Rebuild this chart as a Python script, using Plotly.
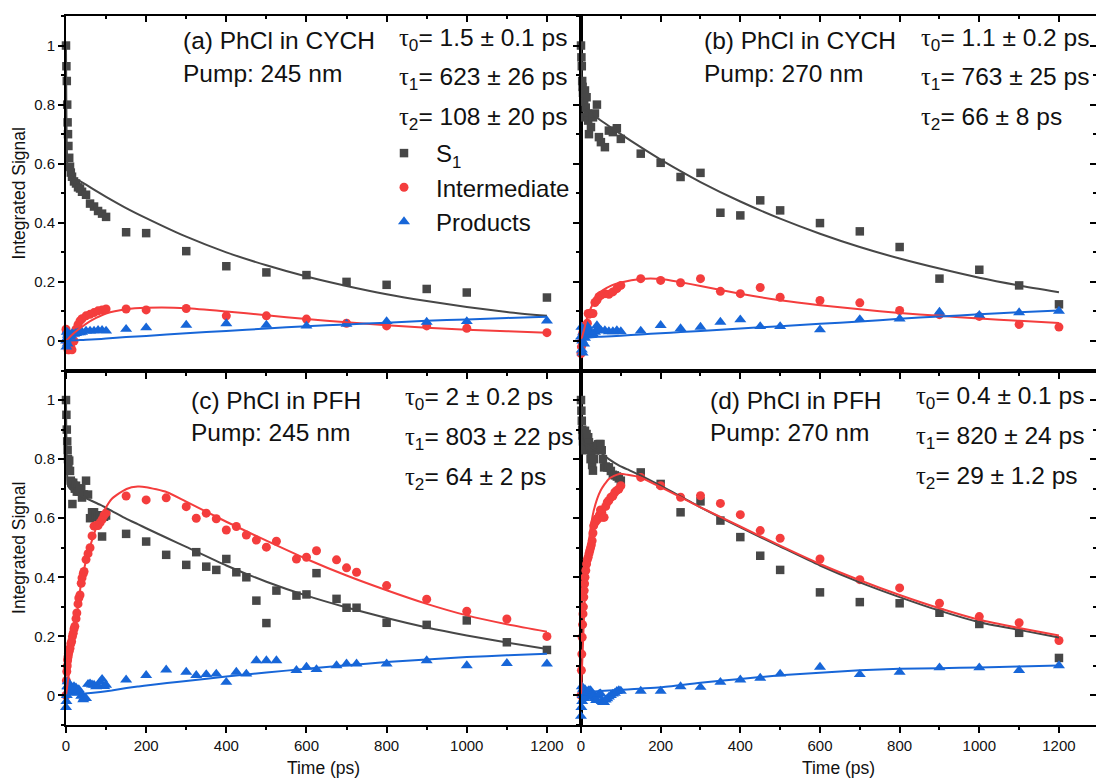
import plotly.graph_objects as go
from plotly.subplots import make_subplots

# ---------------- data ----------------
# Panel (a): PhCl in CYCH, pump 245 nm
a_t = [0, 1, 2, 3, 4, 5, 6, 8, 10, 12, 15, 20, 25, 30, 35, 40, 50, 60, 70, 80, 90, 100,
       150, 200, 300, 400, 500, 600, 700, 800, 900, 1000, 1200]
a_s1 = [1.0, 0.93, 0.88, 0.80, 0.74, 0.70, 0.66, 0.62, 0.59, 0.57, 0.556, 0.54, 0.533, 0.52, 0.516, 0.505,
        0.495, 0.465, 0.455, 0.44, 0.431, 0.42, 0.368, 0.365, 0.304, 0.253, 0.232, 0.223, 0.20, 0.19,
        0.176, 0.164, 0.147]
a_int = [0.04, 0.03, 0.0, -0.01, -0.02, -0.03, -0.025, -0.03, -0.028, -0.02, -0.03, 0.0, 0.04, 0.055,
         0.068, 0.075, 0.085, 0.09, 0.096, 0.102, 0.105, 0.108, 0.108, 0.105, 0.11, 0.085, 0.085, 0.074,
         0.06, 0.051, 0.051, 0.043, 0.028]
a_prod = [0.0, -0.02, 0.03, 0.01, -0.01, 0.02, 0.025, 0.02, 0.015, 0.02, 0.025, 0.023, 0.026, 0.028,
          0.028, 0.03, 0.034, 0.034, 0.034, 0.036, 0.036, 0.034, 0.04, 0.045, 0.054, 0.059, 0.054,
          0.051, 0.057, 0.066, 0.064, 0.066, 0.068]
a_fit_t = [0, 2, 5, 10, 20, 35, 50, 75, 100, 150, 200, 300, 400, 500, 600, 700, 800, 900, 1000, 1100, 1200]
a_fit_s1 = [1.0, 0.66, 0.57, 0.558, 0.55, 0.541, 0.529, 0.508, 0.488, 0.45, 0.416, 0.353, 0.30, 0.256,
            0.218, 0.186, 0.158, 0.135, 0.115, 0.098, 0.085]
a_fit_int = [0.0, 0.003, 0.007, 0.014, 0.027, 0.043, 0.058, 0.078, 0.093, 0.107, 0.112, 0.111, 0.10,
             0.087, 0.074, 0.063, 0.053, 0.045, 0.038, 0.033, 0.028]
a_fit_prod = [0.0, 0.0, 0.0, 0.001, 0.002, 0.003, 0.004, 0.006, 0.008, 0.013, 0.017, 0.026, 0.034, 0.042,
              0.05, 0.056, 0.062, 0.068, 0.073, 0.078, 0.082]

# Panel (b): PhCl in CYCH, pump 270 nm
b_t = [0, 1, 2, 3, 4, 5, 6, 8, 10, 12, 14, 16, 18, 20, 25, 30, 35, 40, 45, 50, 60, 70, 80, 90, 100,
       150, 200, 250, 300, 350, 400, 450, 500, 600, 700, 800, 900, 1000, 1100, 1200]
b_s1 = [1.0, 0.96, 0.93, 0.88, 0.86, 0.84, 0.757, 0.81, 0.848, 0.79, 0.825, 0.77, 0.746, 0.70, 0.724,
        0.757, 0.77, 0.80, 0.69, 0.673, 0.656, 0.712, 0.707, 0.72, 0.684, 0.634, 0.603, 0.555, 0.569,
        0.434, 0.425, 0.476, 0.442, 0.399, 0.371, 0.318, 0.211, 0.241, 0.188, 0.124]
b_int = [-0.043, -0.02, 0.0, 0.02, -0.01, 0.03, 0.04, 0.05, 0.04, 0.047, 0.05, 0.06, 0.093, 0.09, 0.093,
         0.093, 0.13, 0.138, 0.15, 0.155, 0.16, 0.158, 0.166, 0.177, 0.188, 0.211, 0.205, 0.197, 0.211,
         0.168, 0.16, 0.181, 0.148, 0.137, 0.129, 0.103, 0.089, 0.083, 0.056, 0.047]
b_prod = [0.014, 0.047, -0.03, 0.0, -0.04, 0.02, 0.03, -0.01, 0.01, 0.02, 0.024, 0.05, 0.041, 0.03,
          0.019, 0.024, 0.03, 0.052, 0.04, 0.035, 0.035, 0.032, 0.032, 0.035, 0.032, 0.034, 0.053,
          0.042, 0.047, 0.064, 0.072, 0.049, 0.049, 0.038, 0.073, 0.075, 0.098, 0.087, 0.096, 0.101]
b_fit_t = [0, 1, 3, 8, 18, 44, 77, 100, 150, 200, 250, 300, 400, 500, 600, 700, 800, 900, 1000, 1100, 1200]
b_fit_s1 = [1.0, 0.90, 0.82, 0.79, 0.78, 0.752, 0.721, 0.70, 0.656, 0.614, 0.575, 0.538, 0.472, 0.414,
            0.363, 0.318, 0.279, 0.245, 0.214, 0.188, 0.165]
b_fit_int = [0.0, 0.005, 0.015, 0.04, 0.09, 0.16, 0.188, 0.198, 0.210, 0.210, 0.199, 0.186, 0.16, 0.138,
             0.121, 0.107, 0.095, 0.085, 0.076, 0.068, 0.061]
b_fit_prod = [0.0, 0.002, 0.004, 0.008, 0.011, 0.014, 0.016, 0.018, 0.022, 0.026, 0.03, 0.034, 0.042,
              0.05, 0.058, 0.066, 0.075, 0.083, 0.09, 0.097, 0.103]

# Panel (c): PhCl in PFH, pump 245 nm
c_t = [0, 1, 2, 3, 4, 5, 6, 8, 10, 12, 14, 16, 18, 20, 22, 25, 27, 30, 32, 35, 38, 40, 43, 45, 50,
       55, 60, 65, 70, 75, 80, 85, 90, 95, 100, 150, 200, 250, 300, 325, 350, 375, 400, 425, 450,
       475, 500, 525, 575, 600, 625, 675, 700, 725, 800, 900, 1000, 1100, 1200]
c_s1 = [1.0, 0.95, 0.90, 0.86, 0.83, 0.80, 0.78, 0.795, 0.76, 0.727, 0.72, 0.648, 0.72, 0.71, 0.70,
        0.71, 0.69, 0.70, 0.69, 0.70, 0.70, 0.67, 0.68, 0.68, 0.727, 0.68, 0.60, 0.62, 0.62, 0.61,
        0.603, 0.61, 0.538, 0.605, 0.609, 0.547, 0.521, 0.476, 0.442, 0.485, 0.436, 0.425, 0.462,
        0.417, 0.40, 0.321, 0.245, 0.355, 0.338, 0.342, 0.414, 0.327, 0.297, 0.297, 0.246, 0.239,
        0.254, 0.18, 0.154]
c_int = [0.0, 0.05, 0.081, 0.10, 0.12, 0.13, 0.141, 0.15, 0.16, 0.175, 0.183, 0.20, 0.211, 0.225,
         0.234, 0.26, 0.279, 0.31, 0.33, 0.34, 0.38, 0.398, 0.412, 0.42, 0.46, 0.48, 0.50, 0.54,
         0.573, 0.575, 0.575, 0.585, 0.595, 0.61, 0.618, 0.675, 0.662, 0.669, 0.639, 0.60, 0.617,
         0.598, 0.56, 0.572, 0.543, 0.526, 0.502, 0.522, 0.462, 0.468, 0.49, 0.459, 0.432, 0.417,
         0.372, 0.326, 0.285, 0.259, 0.20]
c_prod = [-0.04, -0.02, 0.0, 0.03, 0.047, 0.03, 0.01, 0.02, 0.02, 0.03, 0.01, 0.025, 0.02, 0.03, 0.02,
          0.026, 0.015, 0.009, 0.02, 0.01, -0.002, 0.0, -0.014, -0.008, -0.01, 0.038, 0.04, 0.036,
          0.035, 0.03, 0.031, 0.045, 0.055, 0.031, 0.035, 0.053, 0.068, 0.087, 0.079, 0.068, 0.071,
          0.073, 0.045, 0.079, 0.073, 0.118, 0.118, 0.118, 0.085, 0.096, 0.088, 0.101, 0.107, 0.107,
          0.107, 0.118, 0.101, 0.109, 0.107]
c_fit_t = [0, 1, 2, 5, 10, 21, 39, 62, 86, 114, 151, 179, 200, 252, 300, 400, 500, 600, 700, 800,
           900, 1000, 1100, 1200]
c_fit_s1 = [1.0, 0.86, 0.78, 0.71, 0.70, 0.69, 0.675, 0.66, 0.645, 0.625, 0.598, 0.58, 0.566, 0.533,
            0.503, 0.44, 0.385, 0.338, 0.298, 0.262, 0.23, 0.203, 0.179, 0.157]
c_fit_int = [0.0, 0.01, 0.02, 0.05, 0.10, 0.209, 0.39, 0.513, 0.603, 0.665, 0.699, 0.707, 0.705,
             0.688, 0.656, 0.588, 0.524, 0.462, 0.406, 0.356, 0.31, 0.271, 0.241, 0.216]
c_fit_prod = [0.0, 0.0, 0.001, 0.002, 0.003, 0.004, 0.005, 0.008, 0.012, 0.017, 0.025, 0.03, 0.034,
              0.042, 0.049, 0.064, 0.078, 0.09, 0.102, 0.113, 0.122, 0.13, 0.136, 0.141]

# Panel (d): PhCl in PFH, pump 270 nm
d_t = [0, 1, 2, 3, 4, 5, 6, 7, 8, 9, 10, 12, 14, 16, 18, 20, 22, 24, 26, 28, 30, 32, 35, 38, 40,
       43, 46, 49, 52, 55, 58, 62, 66, 70, 75, 80, 85, 90, 95, 100, 150, 200, 250, 300, 350, 400,
       450, 500, 600, 700, 800, 900, 1000, 1100, 1200]
d_s1 = [1.0, 0.964, 0.93, 0.90, 0.88, 0.86, 0.84, 0.87, 0.85, 0.83, 0.896, 0.87, 0.885, 0.86, 0.874,
        0.857, 0.84, 0.80, 0.82, 0.78, 0.761, 0.80, 0.829, 0.84, 0.845, 0.85, 0.851, 0.851, 0.83,
        0.80, 0.772, 0.775, 0.772, 0.772, 0.76, 0.747, 0.745, 0.741, 0.735, 0.727, 0.755, 0.716, 0.62,
        0.657, 0.592, 0.536, 0.473, 0.425, 0.349, 0.316, 0.312, 0.28, 0.242, 0.212, 0.127]
d_int = [0.0, 0.085, 0.14, 0.197, 0.24, 0.276, 0.30, 0.333, 0.355, 0.378, 0.40, 0.423, 0.445, 0.46,
         0.468, 0.48, 0.49, 0.50, 0.51, 0.524, 0.55, 0.575, 0.586, 0.59, 0.598, 0.598, 0.61, 0.628,
         0.62, 0.603, 0.603, 0.64, 0.654, 0.66, 0.671, 0.675, 0.688, 0.694, 0.699, 0.71, 0.738, 0.71,
         0.671, 0.676, 0.65, 0.612, 0.558, 0.532, 0.462, 0.392, 0.364, 0.312, 0.267, 0.246, 0.186]
d_prod = [-0.07, -0.04, 0.03, -0.02, 0.0, 0.02, 0.023, 0.01, -0.01, 0.015, 0.02, 0.005, 0.0, 0.01,
          0.015, 0.017, 0.01, 0.017, 0.0, -0.005, -0.006, 0.0, -0.01, -0.017, -0.015, 0.0, 0.005,
          0.006, -0.02, -0.023, -0.023, -0.015, -0.011, -0.005, 0.0, 0.005, 0.008, 0.014, 0.017,
          0.015, 0.015, 0.015, 0.03, 0.028, 0.045, 0.053, 0.059, 0.073, 0.096, 0.071, 0.079, 0.094,
          0.094, 0.085, 0.101]
d_fit_t = [0, 0.5, 1, 2, 4, 7, 11, 19, 32, 49, 70, 96, 117, 149, 200, 300, 400, 500, 600, 700, 800,
           900, 1000, 1100, 1200]
d_fit_s1 = [1.0, 0.88, 0.86, 0.855, 0.855, 0.853, 0.85, 0.846, 0.835, 0.823, 0.80, 0.778, 0.765, 0.745,
            0.71, 0.637, 0.569, 0.504, 0.44, 0.383, 0.333, 0.287, 0.248, 0.222, 0.196]
d_fit_int = [0.0, 0.02, 0.04, 0.08, 0.14, 0.25, 0.366, 0.513, 0.626, 0.693, 0.733, 0.75, 0.747, 0.738,
             0.705, 0.637, 0.572, 0.507, 0.445, 0.39, 0.34, 0.295, 0.256, 0.228, 0.203]
d_fit_prod = [0.0, 0.0, 0.001, 0.002, 0.004, 0.006, 0.008, 0.011, 0.013, 0.015, 0.017, 0.019, 0.02,
              0.023, 0.028, 0.043, 0.056, 0.068, 0.077, 0.085, 0.09, 0.092, 0.095, 0.098, 0.101]

series_names = ["S<sub>1</sub>", "Intermediate", "Products"]
panel_titles = ["(a) PhCl in CYCH", "(b) PhCl in CYCH", "(c) PhCl in PFH", "(d) PhCl in PFH"]
pump_labels = ["Pump: 245 nm", "Pump: 270 nm", "Pump: 245 nm", "Pump: 270 nm"]
tau_labels = [
    [("0", "1.5 ± 0.1 ps"), ("1", "623 ± 26 ps"), ("2", "108 ± 20 ps")],
    [("0", "1.1 ± 0.2 ps"), ("1", "763 ± 25 ps"), ("2", "66 ± 8 ps")],
    [("0", "2 ± 0.2 ps"), ("1", "803 ± 22 ps"), ("2", "64 ± 2 ps")],
    [("0", "0.4 ± 0.1 ps"), ("1", "820 ± 24 ps"), ("2", "29 ± 1.2 ps")],
]
x_ticks = [0, 200, 400, 600, 800, 1000, 1200]
y_ticks = [0, 0.2, 0.4, 0.6, 0.8, 1]

# ---------------- styling ----------------
W, H = 1096, 779
ML, MR, MT, MB = 66, 0, 16, 54
GRAY, RED, BLUE = "#474747", "#F43D3D", "#1766D8"
FONT = "Arial, Liberation Sans, Helvetica, sans-serif"
colors = [GRAY, RED, BLUE]
symbols = ["square", "circle", "triangle-up"]
msizes = [8.5, 9, 10.5]
XR_L, XR_R, YR = [0, 1285], [0, 1293], [-0.1, 1.1]

panels = [
    (1, 1, a_t, [a_s1, a_int, a_prod], a_fit_t, [a_fit_s1, a_fit_int, a_fit_prod]),
    (1, 2, b_t, [b_s1, b_int, b_prod], b_fit_t, [b_fit_s1, b_fit_int, b_fit_prod]),
    (2, 1, c_t, [c_s1, c_int, c_prod], c_fit_t, [c_fit_s1, c_fit_int, c_fit_prod]),
    (2, 2, d_t, [d_s1, d_int, d_prod], d_fit_t, [d_fit_s1, d_fit_int, d_fit_prod]),
]

fig = make_subplots(rows=2, cols=2, horizontal_spacing=0, vertical_spacing=0)

for pi, (r, c, t, ys, ft, fys) in enumerate(panels):
    for k in range(3):
        fig.add_trace(go.Scatter(
            x=t, y=ys[k], mode="markers", name=series_names[k],
            marker=dict(symbol=symbols[k], size=msizes[k], color=colors[k], line=dict(width=0)),
            showlegend=(pi == 0), cliponaxis=False, legendgroup=str(k)), row=r, col=c)
    for k in range(3):
        fig.add_trace(go.Scatter(
            x=ft, y=fys[k], mode="lines", line=dict(color=colors[k], width=2, shape="spline", smoothing=0.6),
            showlegend=False, hoverinfo="skip"), row=r, col=c)

axis_common = dict(showline=True, linewidth=2, linecolor="black", mirror=True, showgrid=False,
                   zeroline=False, ticks="outside", ticklen=6, tickwidth=1.5, tickcolor="black",
                   tickfont=dict(family=FONT, size=15, color="#111"))
for r in (1, 2):
    for c in (1, 2):
        fig.update_xaxes(range=XR_L if c == 1 else XR_R, tickvals=x_ticks,
                         minor=dict(ticks="outside", ticklen=3, tickwidth=1.5, dtick=100, tick0=0,
                                    tickcolor="black"),
                         showticklabels=(r == 2), row=r, col=c, **axis_common)
        fig.update_yaxes(range=YR, tickvals=y_ticks,
                         minor=dict(ticks="outside", ticklen=3, tickwidth=1.5, dtick=0.1, tick0=0,
                                    tickcolor="black"),
                         showticklabels=(c == 1), row=r, col=c, **axis_common)
        if r == 2:
            fig.update_xaxes(title=dict(text="Time (ps)", standoff=9,
                                        font=dict(family=FONT, size=17.5, color="#111")), row=r, col=c)
        if c == 1:
            fig.update_yaxes(title=dict(text="Integrated Signal", standoff=4,
                                        font=dict(family=FONT, size=17.5, color="#111")), row=r, col=c)

# inward-pointing mirror ticks on the top of (a),(b) and right side of (b),(d)
in_ticks = dict(ticks="inside", ticklen=6, tickwidth=1.5, tickcolor="black", showline=False,
                showgrid=False, zeroline=False, showticklabels=False)
fig.update_layout(
    xaxis5=dict(overlaying="x", anchor="y", side="top", range=XR_L, tickvals=x_ticks,
                minor=dict(ticks="inside", ticklen=3, tickwidth=1.5, dtick=100, tick0=0, tickcolor="black"),
                **in_ticks),
    xaxis6=dict(overlaying="x2", anchor="y2", side="top", range=XR_R, tickvals=x_ticks,
                minor=dict(ticks="inside", ticklen=3, tickwidth=1.5, dtick=100, tick0=0, tickcolor="black"),
                **in_ticks),
    yaxis5=dict(overlaying="y2", anchor="x2", side="right", range=YR, tickvals=y_ticks,
                minor=dict(ticks="inside", ticklen=3, tickwidth=1.5, dtick=0.1, tick0=0, tickcolor="black"),
                **in_ticks),
    yaxis6=dict(overlaying="y4", anchor="x4", side="right", range=YR, tickvals=y_ticks,
                minor=dict(ticks="inside", ticklen=3, tickwidth=1.5, dtick=0.1, tick0=0, tickcolor="black"),
                **in_ticks),
)
for xa, ya in (("x5", "y"), ("x6", "y2"), ("x2", "y5"), ("x4", "y6")):
    fig.add_trace(go.Scatter(x=[None], y=[None], xaxis=xa, yaxis=ya, mode="markers",
                             showlegend=False, hoverinfo="skip"))


def px_x(p):
    return (p - ML) / (W - ML - MR)


def px_y(p):
    return (H - MB - p) / (H - MT - MB)


# panel text positions (left x, centre y) in pixels
title_pos = [(181, 41), (702, 41), (189, 400), (708, 400)]
pump_pos = [(181, 73), (702, 73), (189, 432), (708, 432)]
tau_pos = [(397, [40, 79, 118]), (919, [40, 79, 118]), (403, [398, 438, 478]), (914, [397, 437, 477])]

ann = []
for i in range(4):
    ann.append(dict(x=px_x(title_pos[i][0]), y=px_y(title_pos[i][1]), text=panel_titles[i]))
    ann.append(dict(x=px_x(pump_pos[i][0]), y=px_y(pump_pos[i][1]), text=pump_labels[i]))
    tx, tys = tau_pos[i]
    for (sub, val), ty in zip(tau_labels[i], tys):
        ann.append(dict(x=px_x(tx), y=px_y(ty),
                        text='<span style="font-family:Liberation Serif, Times New Roman, serif">τ</span>'
                             '<sub>' + sub + '</sub>= ' + val))
for a in ann:
    a.update(xref="paper", yref="paper", xanchor="left", yanchor="middle", showarrow=False,
             font=dict(family=FONT, size=24.5, color="#111"))

fig.update_layout(
    width=W, height=H,
    margin=dict(l=ML, r=MR, t=MT, b=MB, autoexpand=False),
    paper_bgcolor="white", plot_bgcolor="white",
    font=dict(family=FONT, color="#111"),
    annotations=ann,
    showlegend=True,
    legend=dict(x=px_x(372), y=px_y(131), xanchor="left", yanchor="top", bgcolor="rgba(0,0,0,0)",
                font=dict(family=FONT, size=24, color="#111"), itemwidth=54, tracegroupgap=0),
)

fig.write_html("out.html", config={"displayModeBar": False},
               post_script="document.body.style.margin='0';document.body.style.overflow='hidden';")
